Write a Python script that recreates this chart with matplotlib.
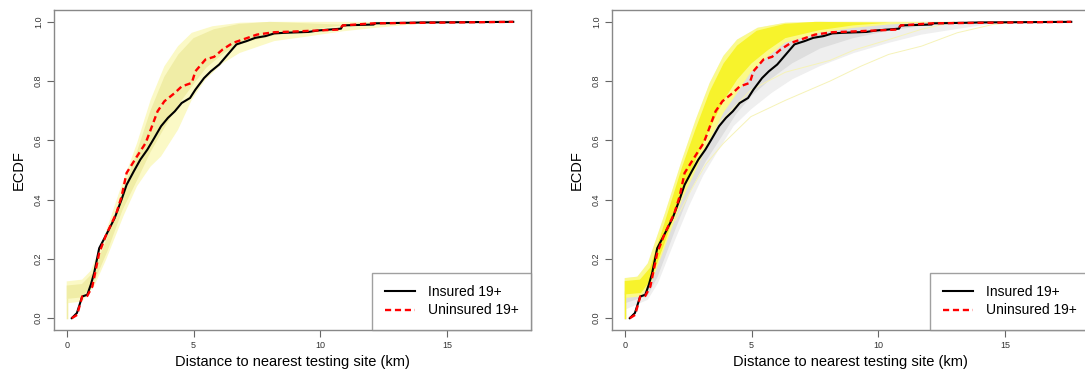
import numpy as np
import matplotlib
matplotlib.use("Agg")
import matplotlib.pyplot as plt

plt.rcParams['font.family'] = ['Liberation Sans', 'DejaVu Sans']

# observed ECDFs (same in both panels)
ins_x = [0.2, 0.4, 0.61, 0.81, 0.95, 1.08, 1.28, 1.55, 1.89, 2.16, 2.36, 2.64, 2.9, 3.18,
         3.45, 3.72, 3.99, 4.26, 4.53, 4.86, 5.07, 5.41, 5.68, 6.01, 6.35, 6.69, 7.09, 7.43,
         7.84, 8.18, 8.58, 9.53, 9.93, 10.81, 10.88, 12.1, 12.16, 13.58, 14.0, 17.6]
ins_y = [0.0, 0.017, 0.073, 0.079, 0.113, 0.152, 0.236, 0.28, 0.338, 0.40, 0.45, 0.495, 0.535, 0.569,
         0.608, 0.648, 0.676, 0.698, 0.726, 0.743, 0.771, 0.81, 0.833, 0.856, 0.89, 0.924, 0.935, 0.946,
         0.952, 0.961, 0.963, 0.966, 0.971, 0.977, 0.988, 0.991, 0.995, 0.997, 0.998, 1.0]

unins_x = [0.2, 0.41, 0.61, 0.81, 1.01, 1.28, 1.55, 1.96, 2.16, 2.36, 2.77, 3.11, 3.31, 3.58,
           3.85, 4.26, 4.53, 4.93, 5.07, 5.47, 5.81, 6.15, 6.55, 7.03, 7.5, 8.18, 8.85, 10.74,
           10.88, 12.1, 17.6]
unins_y = [0.0, 0.011, 0.073, 0.075, 0.107, 0.22, 0.28, 0.355, 0.41, 0.49, 0.546, 0.591, 0.636, 0.698,
           0.732, 0.76, 0.782, 0.794, 0.833, 0.873, 0.882, 0.907, 0.929, 0.943, 0.957, 0.965, 0.967, 0.974,
           0.988, 0.995, 1.0]

# left panel: envelope of simulated ECDFs
L_out_up_x = [0, 0.61, 0.95, 1.42, 2.09, 2.77, 3.31, 3.85, 4.39, 4.93, 5.74, 6.82, 8.2]
L_out_up_y = [0.124, 0.13, 0.16, 0.26, 0.43, 0.59, 0.737, 0.85, 0.918, 0.963, 0.985, 0.997, 1.0]
L_out_lo_x = [0, 0.61, 1.08, 1.55, 2.23, 2.77, 3.31, 3.72, 4.39, 4.93, 5.47, 6.15, 6.82, 8.18,
              9.53, 10.88, 12.2, 13.6, 14.9]
L_out_lo_y = [0.05, 0.056, 0.107, 0.197, 0.343, 0.445, 0.512, 0.546, 0.636, 0.737, 0.805, 0.86, 0.895, 0.935,
              0.951, 0.968, 0.98, 0.991, 1.0]
L_core_up_x = [0, 0.6, 1.0, 1.5, 2.1, 2.8, 3.3, 3.85, 4.4, 5.0, 5.8, 6.8, 8.0]
L_core_up_y = [0.11, 0.115, 0.15, 0.25, 0.40, 0.57, 0.70, 0.815, 0.89, 0.945, 0.975, 0.993, 1.0]
L_core_lo_x = [0, 0.6, 1.1, 1.6, 2.2, 2.8, 3.3, 3.9, 4.4, 5.0, 5.5, 6.2, 7.0, 8.2, 9.5, 11.0]
L_core_lo_y = [0.065, 0.07, 0.125, 0.225, 0.365, 0.47, 0.56, 0.65, 0.72, 0.79, 0.845, 0.895, 0.93, 0.955, 0.972, 0.99]

# right panel: yellow and grey envelopes
R_y_up_x = [0, 0.5, 0.91, 1.59, 2.26, 2.8, 3.35, 3.89, 4.43, 5.24, 6.33, 7.7, 18.3]
R_y_up_y = [0.135, 0.14, 0.185, 0.355, 0.535, 0.67, 0.794, 0.885, 0.94, 0.98, 0.997, 1.0, 1.0]
R_y_lo_x = [0, 0.64, 1.04, 1.59, 2.26, 2.8, 3.35, 3.89, 4.43, 4.97, 5.65, 6.33, 7.68, 9.04,
            10.4, 11.7, 13.0, 18.3]
R_y_lo_y = [0.068, 0.073, 0.118, 0.242, 0.40, 0.50, 0.60, 0.693, 0.76, 0.83, 0.884, 0.93, 0.963, 0.98,
            0.991, 0.997, 1.0, 1.0]
R_yc_up_x = [0, 0.6, 1.0, 1.6, 2.26, 2.8, 3.35, 3.9, 4.43, 5.2, 6.3, 7.5]
R_yc_up_y = [0.125, 0.13, 0.17, 0.33, 0.51, 0.64, 0.765, 0.86, 0.92, 0.97, 0.993, 1.0]
R_yc_lo_x = [0, 0.64, 1.04, 1.6, 2.26, 2.8, 3.35, 3.9, 4.43, 5.0, 5.65, 6.33, 7.68, 9.0, 10.4]
R_yc_lo_y = [0.08, 0.085, 0.13, 0.26, 0.425, 0.535, 0.64, 0.735, 0.805, 0.86, 0.905, 0.945, 0.972, 0.988, 0.997]

R_g_up_x = [0, 0.64, 1.04, 1.6, 2.26, 2.8, 3.35, 3.9, 4.43, 5.0, 5.65, 6.33, 7.68, 9.0, 10.4, 12.0]
R_g_up_y = [0.09, 0.095, 0.14, 0.28, 0.45, 0.56, 0.66, 0.75, 0.82, 0.87, 0.91, 0.945, 0.97, 0.985, 0.995, 1.0]
R_g_lo_x = [0, 0.91, 1.31, 1.99, 2.53, 3.08, 3.62, 4.29, 4.97, 5.79, 6.6, 7.68, 9.04, 10.4,
            11.7, 13.1, 14.5, 15.5]
R_g_lo_y = [0.028, 0.062, 0.118, 0.265, 0.377, 0.479, 0.557, 0.648, 0.704, 0.76, 0.806, 0.85, 0.895, 0.929,
            0.957, 0.976, 0.994, 1.0]
R_gc_lo_x = [0, 0.9, 1.3, 2.0, 2.6, 3.2, 3.8, 4.4, 5.0, 5.8, 6.6, 7.7, 9.0, 10.4, 12.0]
R_gc_lo_y = [0.05, 0.075, 0.14, 0.30, 0.43, 0.53, 0.61, 0.69, 0.75, 0.81, 0.86, 0.91, 0.945, 0.97, 0.99]

# a few stray yellow curves in the right panel
R_stray1_x = [2.0, 2.6, 3.2, 3.89, 4.97, 6.33, 8.09, 9.3, 10.4, 11.7, 13.1, 14.5, 15.5]
R_stray1_y = [0.33, 0.43, 0.52, 0.59, 0.68, 0.735, 0.80, 0.85, 0.89, 0.918, 0.963, 0.991, 1.0]
R_stray2_x = [3.5, 4.97, 6.33, 8.09, 9.04, 10.4, 11.7, 13.0]
R_stray2_y = [0.64, 0.77, 0.83, 0.87, 0.905, 0.94, 0.975, 1.0]

xticks = [0, 5, 10, 15]
yticks = [0.0, 0.2, 0.4, 0.6, 0.8, 1.0]


def band(ax, ux, uy, lx, ly, color, z):
    px = np.concatenate([ux, lx[::-1]])
    py = np.concatenate([uy, ly[::-1]])
    ax.fill(px, py, color=color, lw=0, zorder=z)
    ax.plot([lx[0], lx[0]], [0, ly[0]], color=color, lw=1, zorder=z)


def setup(ax):
    ax.set_xlim(-0.5, 18.3)
    ax.set_ylim(-0.04, 1.04)
    ax.set_xticks(xticks)
    ax.set_xticklabels([str(t) for t in xticks])
    ax.set_yticks(yticks)
    ax.set_yticklabels(['%.1f' % t for t in yticks], rotation=90, va='center')
    ax.tick_params(length=5, width=0.8, color='#666666', labelsize=6.5, labelcolor='#333333', pad=3)
    for s in ax.spines.values():
        s.set_color('#888888')
        s.set_linewidth(1.0)
    ax.text(0.5, -0.078, 'Distance to nearest testing site (km)', transform=ax.transAxes,
            ha='center', va='top', fontsize=10.5)
    ax.text(-0.075, 0.5, 'ECDF', transform=ax.transAxes, rotation=90,
            ha='center', va='center', fontsize=10.5)
    ax.plot(ins_x, ins_y, color='black', lw=1.5, zorder=10, label='Insured 19+')
    ax.plot(unins_x, unins_y, color='red', lw=1.7, dashes=(2.6, 1.6), zorder=11, label='Uninsured 19+')
    leg = ax.legend(loc='lower right', borderaxespad=0, fancybox=False, fontsize=10,
                    handlelength=2.2, handletextpad=0.9, labelspacing=0.3, borderpad=0.9)
    leg.get_frame().set_edgecolor('#888888')
    leg.get_frame().set_linewidth(1.0)


fig = plt.figure(figsize=(10.85, 3.73), dpi=100)
ax1 = fig.add_axes([0.0498, 0.1153, 0.4396, 0.8579])
ax2 = fig.add_axes([0.5641, 0.1153, 0.4396, 0.8579])

band(ax1, L_out_up_x, L_out_up_y, L_out_lo_x, L_out_lo_y, '#fbf9c6', 2)
band(ax1, L_core_up_x, L_core_up_y, L_core_lo_x, L_core_lo_y, '#f0eda6', 3)
setup(ax1)

band(ax2, R_y_up_x, R_y_up_y, R_g_lo_x, R_g_lo_y, '#efefef', 1)
band(ax2, R_g_up_x, R_g_up_y, R_gc_lo_x, R_gc_lo_y, '#dedede', 2)
ax2.plot(R_stray1_x, R_stray1_y, color='#f6f3b8', lw=0.7, zorder=3)
ax2.plot(R_stray2_x, R_stray2_y, color='#f6f3b8', lw=0.7, zorder=3)
band(ax2, R_y_up_x, R_y_up_y, R_y_lo_x, R_y_lo_y, '#fbfa8c', 4)
band(ax2, R_yc_up_x, R_yc_up_y, R_yc_lo_x, R_yc_lo_y, '#f7f32c', 5)
setup(ax2)

fig.savefig('out.png', dpi=100)
